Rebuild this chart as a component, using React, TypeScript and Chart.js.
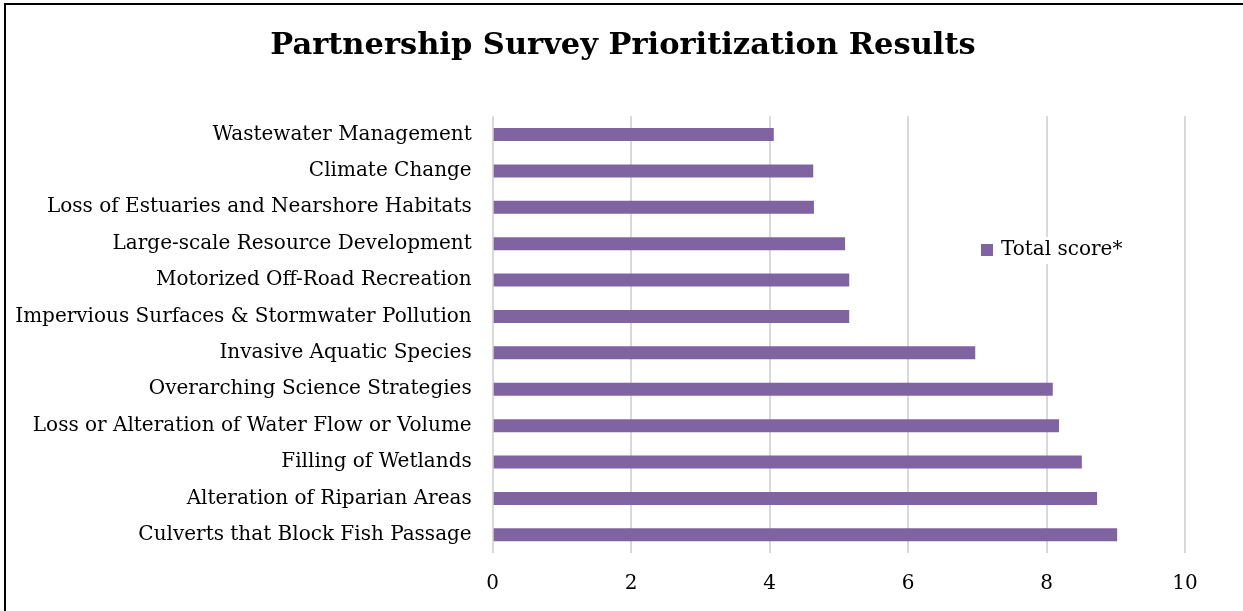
import React, { useEffect, useRef } from "react";
import { Chart, registerables } from "chart.js";

Chart.register(...registerables);

const CATEGORIES = [
  "Wastewater Management",
  "Climate Change",
  "Loss of Estuaries and Nearshore Habitats",
  "Large-scale Resource Development",
  "Motorized Off-Road Recreation",
  "Impervious Surfaces & Stormwater Pollution",
  "Invasive Aquatic Species",
  "Overarching Science Strategies",
  "Loss or Alteration of Water Flow or Volume",
  "Filling of Wetlands",
  "Alteration of Riparian Areas",
  "Culverts that Block Fish Passage",
];

const TOTAL_SCORE = [4.06, 4.63, 4.64, 5.09, 5.15, 5.15, 6.97, 8.09, 8.18, 8.51, 8.73, 9.02];

const SERIES_NAME = "Total score*";
const TITLE = "Partnership Survey Prioritization Results";
const X_MIN = 0;
const X_MAX = 10;
const X_STEP = 2;

const BAR_COLOR = "#8064a2";
const FONT = "'DejaVu Serif', serif";
const TEXT_SIZE = 20;

const overlayPlugin = {
  id: "titleAndLegend",
  afterDatasetsDraw(chart: any) {
    const ctx = chart.ctx;
    ctx.save();
    // title
    ctx.font = `bold 30.5px ${FONT}`;
    ctx.fillStyle = "#000000";
    ctx.textAlign = "center";
    ctx.textBaseline = "middle";
    ctx.fillText(TITLE, 623, 46);
    // legend
    ctx.font = `${TEXT_SIZE}px ${FONT}`;
    const tw = ctx.measureText(SERIES_NAME).width;
    const bx = 981;
    const by = 244;
    ctx.fillStyle = "#ffffff";
    ctx.fillRect(bx - 5, by - 7, tw + 32, 27);
    ctx.fillStyle = BAR_COLOR;
    ctx.fillRect(bx, by, 12, 12);
    ctx.fillStyle = "#000000";
    ctx.textAlign = "left";
    ctx.fillText(SERIES_NAME, bx + 20, by + 6);
    ctx.restore();
  },
};

export default function App() {
  const canvasRef = useRef<HTMLCanvasElement | null>(null);

  useEffect(() => {
    if (!canvasRef.current) return;
    const chart = new Chart(canvasRef.current, {
      type: "bar",
      data: {
        labels: CATEGORIES,
        datasets: [
          {
            label: SERIES_NAME,
            data: TOTAL_SCORE,
            backgroundColor: BAR_COLOR,
            borderWidth: 0,
            barPercentage: 0.357,
            categoryPercentage: 1,
          },
        ],
      },
      options: {
        indexAxis: "y",
        responsive: false,
        maintainAspectRatio: false,
        animation: false,
        devicePixelRatio: 1,
        layout: { padding: { left: 0, right: 58, top: 116.3, bottom: 0 } },
        plugins: {
          legend: { display: false },
          tooltip: { enabled: false },
          title: { display: false },
        },
        scales: {
          x: {
            type: "linear",
            min: X_MIN,
            max: X_MAX,
            ticks: {
              stepSize: X_STEP,
              color: "#000000",
              font: { family: FONT, size: TEXT_SIZE },
              padding: 19,
            },
            grid: { color: "#d9d9d9", lineWidth: 2, drawTicks: false },
            border: { display: false },
            afterFit(scale: any) {
              scale.height = 58;
            },
          },
          y: {
            ticks: {
              color: "#000000",
              font: { family: FONT, size: TEXT_SIZE },
              padding: 21,
            },
            grid: { display: false, drawTicks: false },
            border: { display: false },
            afterFit(scale: any) {
              scale.width = 492.7;
            },
          },
        },
      },
      plugins: [overlayPlugin],
    });
    return () => chart.destroy();
  }, []);

  return (
    <div style={{ position: "fixed", left: 0, top: 0, width: 1243, height: 611, overflow: "hidden", background: "#ffffff" }}>
      <canvas ref={canvasRef} width={1243} height={611} style={{ position: "absolute", left: 0, top: 0, width: 1243, height: 611 }} />
      <div
        style={{
          position: "absolute",
          left: 4,
          top: 3,
          width: 1400,
          height: 800,
          borderLeft: "2px solid #000",
          borderTop: "2px solid #000",
          pointerEvents: "none",
        }}
      />
    </div>
  );
}
